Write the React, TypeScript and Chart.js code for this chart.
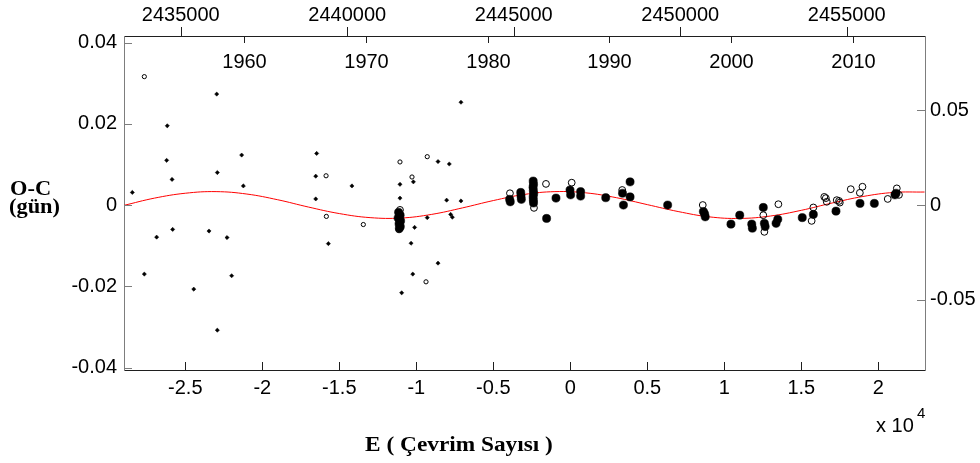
import React, { useEffect, useRef } from 'react';
import { Chart, registerables } from 'chart.js';

Chart.register(...registerables);

// Visual timings (small filled marks): cycle number E and O-C in days
const visualE = [
  -28440, -27660, -26860, -26210, -26170, -25860, -25820, -24450, -23460, -22960,
  -22920, -22920, -22290, -21990, -21340, -21230, -16470, -16530, -16530, -15710,
  -14180, -11060, -11060, -10950, -10340, -10230, -10190, -10110, -9290, -8590,
  -8590, -8030, -7860, -7770, -7660, -7100, -7100,
];
const visualOC = [
  0.0031, -0.0170, -0.0079, 0.0110, 0.0195, 0.0063, -0.0060, -0.0207, -0.0064, 0.0273,
  0.0080, -0.0308, -0.0080, -0.0174, 0.0123, 0.0047, 0.0127, 0.0071, 0.0015, -0.0095,
  0.0047, 0.0051, 0.0017, -0.0216, -0.0094, -0.0170, 0.0057, -0.0055, -0.0031, 0.0107,
  -0.0143, 0.0012, 0.0101, -0.0023, -0.0030, 0.0253, 0.0010,
];

// Photographic timings (small open circles)
const photoE = [-27660, -15860, -15840, -13440, -11060, -10280, -9290, -9370];
const photoOC = [0.0316, 0.0072, -0.0028, -0.0048, 0.0106, 0.0069, 0.0119, -0.0189];

// Photoelectric / CCD primary minima (large filled circles)
const primaryE = [
  -11150, -11050, -11180, -11020, -11120, -11040, -11100,
  -3940, -3900, -3220, -3180, -3200,
  -2410, -2390, -2420, -2400, -2380, -2410, -2400, -2390,
  -1540, -930, -20, 20, 670, 670, 2300, 3390, 3450, 3880, 3880,
  6320, 8640, 8720, 8760, 10430, 11000, 11780, 11820, 12530, 12600, 12650,
  13360, 13470, 15060, 15780, 17250, 18810, 19740, 21080, 21150,
];
const primaryOC = [
  -0.0018, -0.0025, -0.0032, -0.0039, -0.0046, -0.0053, -0.0057,
  0.0014, 0.0008, 0.0031, 0.0014, 0.0022,
  0.0059, 0.0051, 0.0044, 0.0036, 0.0028, 0.0020, 0.0012, 0.0005,
  -0.0033, 0.0017, 0.0037, 0.0025, 0.0033, 0.0022, 0.0018, 0.0029, 0.0000, 0.0057, 0.0020,
  0.0000, -0.0016, -0.0022, -0.0029, -0.0047, -0.0025, -0.0047, -0.0057, -0.0006, -0.0045, -0.0053,
  -0.0045, -0.0035, -0.0031, -0.0023, -0.0015, 0.0004, 0.0004, 0.0025, 0.0029,
];

// Photoelectric / CCD secondary minima (large open circles)
const secondaryE = [
  -11120, -11060, -3920, -2360, -1580, 90, 3370, 8600, 12530, 12600,
  13510, 15780, 15670, 16490, 16590, 16650, 17300, 17450, 17500, 18210,
  18800, 18970, 20610, 21200, 21340,
];
const secondaryOC = [
  -0.0060, -0.0012, 0.0029, -0.0007, 0.0052, 0.0055, 0.0037, 0.0000, -0.0025, -0.0066,
  0.0002, -0.0006, -0.0039, 0.0020, 0.0017, 0.0008, 0.0012, 0.0010, 0.0006, 0.0039,
  0.0030, 0.0045, 0.0015, 0.0041, 0.0025,
];

// Light-time effect fit curve
const fitE = [
  -29000, -27000, -25000, -23000, -21000, -19000, -17000, -15000, -13000, -11000,
  -9000, -7000, -5000, -3000, -1000, 1000, 3000, 5000, 7000, 9000,
  11000, 13000, 15000, 17000, 19000, 21000, 23000,
];
const fitOC = [
  -0.0001, 0.0017, 0.0029, 0.0033, 0.0027, 0.0013, -0.0005, -0.0021, -0.0031, -0.0032,
  -0.0023, -0.0007, 0.0011, 0.0026, 0.0033, 0.0030, 0.0018, 0.0001, -0.0016, -0.0029,
  -0.0033, -0.0027, -0.0013, 0.0005, 0.0021, 0.0031, 0.0032,
];

// Axis ticks
const cycleTicks = [-25000, -20000, -15000, -10000, -5000, 0, 5000, 10000, 15000, 20000];
const jdTicks = [2435000, 2440000, 2445000, 2450000, 2455000];
const yearTicks = [1960, 1970, 1980, 1990, 2000, 2010];
const ocTicks = [-0.04, -0.02, 0, 0.02, 0.04];
const rightTicks = [-0.05, 0, 0.05];

const pts = (xs: number[], ys: number[]) => xs.map((x, i) => ({ x, y: ys[i] }));

const SANS = '"Liberation Sans", Arial, sans-serif';
const SERIF = '"Liberation Serif", "Times New Roman", serif';
const DARK = '#1f1f1f';
const GREY = '#7d7d7d';

const tickFont = { family: SANS, size: 20 };

const setTicks = (list: number[]) => (scale: any) => {
  scale.ticks = list.map((value) => ({ value }));
};

const decorations = {
  id: 'decorations',
  afterDraw(chart: any) {
    const { ctx, chartArea: a, scales } = chart;
    ctx.save();
    ctx.lineWidth = 1;
    const seg = (x1: number, y1: number, x2: number, y2: number, color: string) => {
      ctx.strokeStyle = color;
      ctx.beginPath();
      ctx.moveTo(x1, y1);
      ctx.lineTo(x2, y2);
      ctx.stroke();
    };
    const crisp = (v: number) => Math.round(v) + 0.5;

    // bottom cycle ticks (inward)
    for (const t of scales.x.ticks) {
      const px = crisp(scales.x.getPixelForValue(t.value));
      seg(px, a.bottom, px, a.bottom - 8, DARK);
    }
    // top JD ticks (outward)
    for (const t of scales.xJD.ticks) {
      const px = crisp(scales.xJD.getPixelForValue(t.value));
      seg(px, a.top, px, a.top - 9, DARK);
    }
    // left O-C ticks (inward)
    for (const t of scales.y.ticks) {
      const py = crisp(scales.y.getPixelForValue(t.value));
      seg(a.left, py, a.left + 8, py, GREY);
    }
    // right axis ticks (inward)
    for (const t of scales.y2.ticks) {
      const py = crisp(scales.y2.getPixelForValue(t.value));
      seg(a.right, py, a.right - 8, py, GREY);
    }
    // calendar year ticks and labels inside the top edge
    ctx.fillStyle = '#000';
    ctx.font = `20px ${SANS}`;
    ctx.textAlign = 'center';
    ctx.textBaseline = 'middle';
    for (const yr of yearTicks) {
      const px = crisp(scales.xYear.getPixelForValue(yr));
      seg(px, a.top, px, a.top + 7, DARK);
      ctx.fillText(String(yr), px, 62);
    }

    // exponent note under the cycle axis
    ctx.textAlign = 'left';
    ctx.textBaseline = 'alphabetic';
    ctx.font = `20px ${SANS}`;
    ctx.fillText('x 10', 876, 432);
    ctx.font = `15px ${SANS}`;
    ctx.fillText('4', 917, 418);

    // axis titles
    const stretched = (text: string, x: number, y: number, font: string, sx: number, align: CanvasTextAlign) => {
      ctx.save();
      ctx.font = font;
      ctx.textAlign = align;
      ctx.textBaseline = 'alphabetic';
      ctx.translate(x, y);
      ctx.scale(sx, 1);
      ctx.fillText(text, 0, 0);
      ctx.restore();
    };
    stretched('O-C', 10, 195, `bold 20px ${SERIF}`, 1.12, 'left');
    stretched('(gün)', 9, 213, `bold 20px ${SERIF}`, 1.12, 'left');
    stretched('E ( Çevrim Sayısı )', 459, 451, `bold 21px ${SERIF}`, 1.11, 'center');
    ctx.restore();
  },
};

export default function App() {
  const ref = useRef<HTMLCanvasElement>(null);

  useEffect(() => {
    if (!ref.current) return;
    const chart = new Chart(ref.current, {
      type: 'scatter',
      data: {
        datasets: [
          {
            label: 'CCD secondary',
            data: pts(secondaryE, secondaryOC),
            pointStyle: 'circle',
            pointRadius: 3.4,
            pointBackgroundColor: 'rgba(255,255,255,0)',
            pointBorderColor: '#000',
            pointBorderWidth: 1,
          },
          {
            label: 'CCD primary',
            data: pts(primaryE, primaryOC),
            pointStyle: 'circle',
            pointRadius: 4.1,
            pointBackgroundColor: '#000',
            pointBorderColor: '#000',
            pointBorderWidth: 0.5,
          },
          {
            label: 'photographic',
            data: pts(photoE, photoOC),
            pointStyle: 'circle',
            pointRadius: 2.1,
            pointBackgroundColor: '#fff',
            pointBorderColor: '#000',
            pointBorderWidth: 1,
          },
          {
            label: 'visual',
            data: pts(visualE, visualOC),
            pointStyle: 'rectRot',
            pointRadius: 2.1,
            pointBackgroundColor: '#000',
            pointBorderColor: '#000',
            pointBorderWidth: 0.5,
          },
          {
            label: 'fit',
            data: pts(fitE, fitOC),
            showLine: true,
            borderColor: '#ff0000',
            borderWidth: 1,
            pointRadius: 0,
            tension: 0.4,
          } as any,
        ],
      },
      options: {
        responsive: false,
        animation: false,
        events: [],
        layout: { padding: 0 },
        plugins: { legend: { display: false }, tooltip: { enabled: false } },
        scales: {
          x: {
            type: 'linear',
            position: 'bottom',
            min: -28980,
            max: 23030,
            afterBuildTicks: setTicks(cycleTicks),
            afterFit: (s: any) => { s.height = 93; },
            ticks: {
              font: tickFont,
              color: '#000',
              padding: 6,
              maxRotation: 0,
              autoSkip: false,
              callback: (v: any) => String(Number(v) / 10000),
            },
            grid: { display: false, drawTicks: false },
            border: { display: true, color: DARK, width: 1 },
          },
          xJD: {
            type: 'linear',
            axis: 'x',
            position: 'top',
            min: 2433297,
            max: 2457351,
            afterBuildTicks: setTicks(jdTicks),
            afterFit: (s: any) => { s.height = 36; },
            ticks: {
              font: tickFont,
              color: '#000',
              padding: 9,
              maxRotation: 0,
              autoSkip: false,
              callback: (v: any) => String(v),
            },
            grid: { display: false, drawTicks: false },
            border: { display: true, color: DARK, width: 1 },
          },
          xYear: {
            type: 'linear',
            axis: 'x',
            display: false,
            min: 1950.12,
            max: 2015.93,
          },
          y: {
            type: 'linear',
            position: 'left',
            min: -0.0406,
            max: 0.0416,
            afterBuildTicks: setTicks(ocTicks),
            afterFit: (s: any) => { s.width = 124; },
            ticks: {
              font: tickFont,
              color: '#000',
              padding: 7,
              autoSkip: false,
              callback: (v: any) => String(v),
            },
            grid: { display: false, drawTicks: false },
            border: { display: true, color: GREY, width: 1 },
          },
          y2: {
            type: 'linear',
            axis: 'y',
            position: 'right',
            min: -0.0869,
            max: 0.089,
            afterBuildTicks: setTicks(rightTicks),
            afterFit: (s: any) => { s.width = 55; },
            ticks: {
              font: tickFont,
              color: '#000',
              padding: 5,
              autoSkip: false,
              callback: (v: any) => String(v),
            },
            grid: { display: false, drawTicks: false },
            border: { display: true, color: GREY, width: 1 },
          },
        },
      } as any,
      plugins: [decorations],
    });
    return () => chart.destroy();
  }, []);

  return (
    <div style={{ position: 'fixed', left: 0, top: 0, width: 980, height: 463, background: '#fff' }}>
      <canvas ref={ref} width={980} height={463} style={{ display: 'block', width: 980, height: 463 }} />
    </div>
  );
}
